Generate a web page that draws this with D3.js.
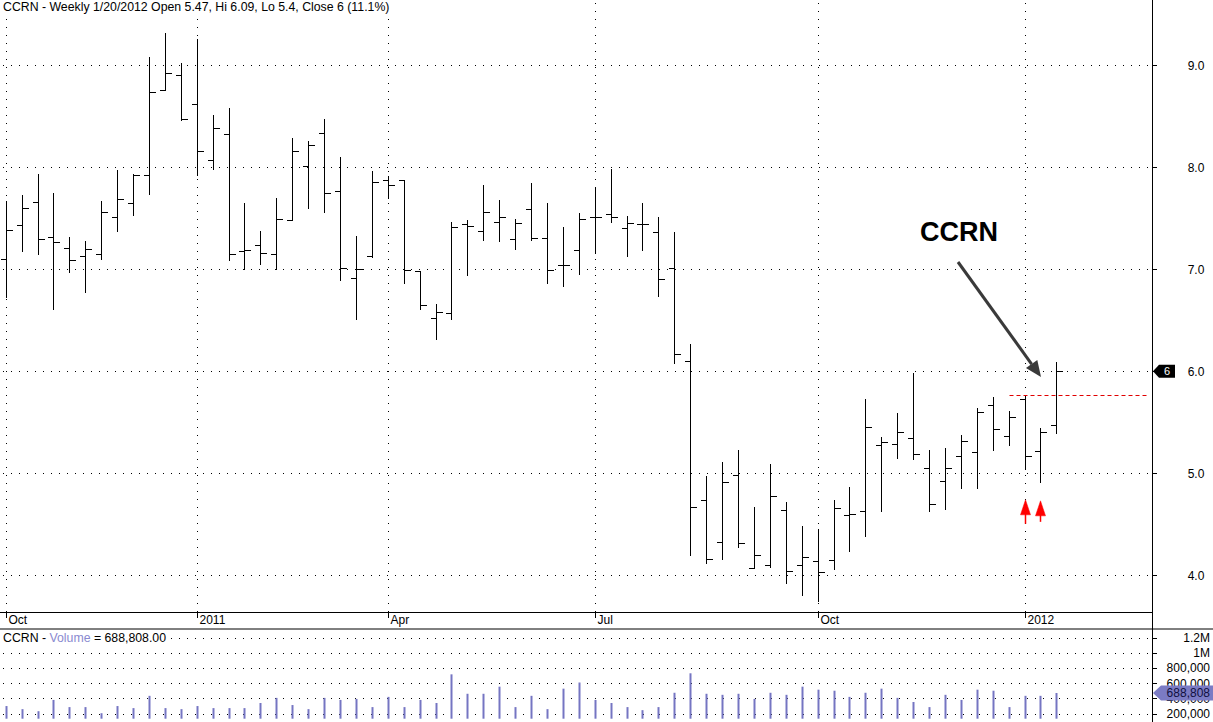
<!DOCTYPE html>
<html>
<head>
<meta charset="utf-8">
<script src="https://cdn.jsdelivr.net/npm/d3@7"></script>
<style>
  body { margin: 0; background: #fff; }
  svg { display: block; font-family: "Liberation Sans", Arial, sans-serif; }
</style>
</head>
<body>
<div id="chart"></div>
<script>
// weekly bars, CCRN, Oct 2010 - Jan 2012
var opens = [7.10, 7.43, 7.66, 7.32, 7.21, 7.13, 7.15, 7.51, 7.65, 7.92, 8.76, 8.90,
  8.62, 8.07, 8.33, 7.18, 7.24, 7.15, 7.48, 8.01, 8.34, 7.77, 6.91, 7.13,
  7.88, 7.88, 6.98, 6.52, 6.57, 7.44, 7.38, 7.46, 7.30, 7.59, 7.31, 7.04,
  7.19, 7.51, 7.54, 7.40, 7.44, 7.37, 7.01, 6.10, 4.74, 4.33, 4.98, 4.07,
  4.10, 4.64, 4.10, 4.14, 4.15, 4.59, 4.63, 5.28, 5.29, 5.35, 5.05, 4.92,
  5.17, 5.21, 5.67, 5.37, 5.73, 5.22, 5.47];
var highs = [7.67, 7.73, 7.93, 7.75, 7.32, 7.28, 7.67, 7.97, 7.93, 9.08, 9.32, 9.02,
  9.26, 8.51, 8.58, 7.65, 7.38, 7.70, 8.29, 8.26, 8.47, 8.10, 7.33, 7.96,
  7.91, 7.88, 6.98, 6.66, 7.46, 7.48, 7.83, 7.68, 7.49, 7.85, 7.65, 7.41,
  7.55, 7.80, 7.98, 7.52, 7.65, 7.51, 7.37, 6.27, 4.97, 5.11, 5.23, 4.67,
  5.09, 4.72, 4.48, 4.45, 4.74, 4.87, 5.73, 5.36, 5.59, 5.98, 5.23, 5.25,
  5.38, 5.64, 5.75, 5.61, 5.77, 5.44, 6.09];
var lows = [6.73, 7.18, 7.15, 6.61, 6.97, 6.78, 7.10, 7.38, 7.53, 7.74, 8.76, 8.46,
  7.92, 7.98, 7.09, 7.00, 7.05, 7.00, 7.48, 7.60, 7.56, 6.90, 6.51, 7.12,
  7.70, 6.87, 6.61, 6.32, 6.51, 6.94, 7.29, 7.28, 7.20, 7.29, 6.87, 6.84,
  6.95, 7.16, 7.46, 7.13, 7.19, 6.74, 6.08, 4.20, 4.12, 4.16, 4.28, 4.07,
  4.08, 3.92, 3.81, 3.75, 4.06, 4.24, 4.39, 4.63, 5.15, 5.14, 4.63, 4.65,
  4.86, 4.86, 5.23, 5.28, 5.04, 4.91, 5.40];
var closes = [7.39, 7.60, 7.30, 7.27, 7.09, 7.20, 7.56, 7.69, 7.92, 8.74, 8.92, 8.47,
  8.16, 8.39, 7.15, 7.19, 7.16, 7.49, 8.16, 8.22, 7.75, 7.01, 7.00, 7.86,
  7.83, 6.99, 6.65, 6.58, 7.41, 7.42, 7.56, 7.51, 7.45, 7.31, 6.99, 7.04,
  7.49, 7.51, 7.51, 7.45, 7.44, 6.90, 6.17, 4.67, 4.16, 4.91, 4.32, 4.20,
  4.78, 4.04, 4.18, 4.03, 4.66, 4.60, 5.45, 5.31, 5.40, 5.19, 4.70, 5.05,
  5.32, 5.60, 5.43, 5.55, 5.17, 5.40, 6.00];
var volumes = [339000, 256000, 201000, 503000, 311000, 311000, 147000, 339000, 284000, 613000, 284000, 256000,
  339000, 284000, 284000, 284000, 421000, 558000, 366000, 256000, 558000, 503000, 530000, 311000,
  585000, 311000, 503000, 421000, 1189000, 668000, 668000, 859000, 311000, 613000, 256000, 805000,
  970000, 503000, 421000, 311000, 229000, 311000, 695000, 1217000, 668000, 640000, 668000, 530000,
  695000, 640000, 859000, 778000, 750000, 585000, 695000, 805000, 558000, 448000, 311000, 640000,
  503000, 778000, 750000, 311000, 613000, 613000, 688808];

var priceTicks = [4, 5, 6, 7, 8, 9];
var volTicks = [200000, 400000, 600000, 800000, 1000000, 1200000];
var volTickLabels = ["200,000", "400,000", "600,000", "800,000", "1M", "1.2M"];
var signalBars = [64, 65];
var signalPrices = [4.74, 4.73];
var resistance = 5.77;

var titleText = "CCRN - Weekly 1/20/2012 Open 5.47, Hi 6.09, Lo 5.4, Close 6 (11.1%)";

var svgWidth = 1213;
var svgHeight = 722;
var axisX = 1152;
var priceBottom = 612;
var volTop = 628.5;

var svg = d3.select("#chart")
  .append("svg")
  .attr("width", svgWidth)
  .attr("height", svgHeight);

svg.append("rect").attr("width", svgWidth).attr("height", svgHeight).attr("fill", "#fff");

// one friday per bar
var dates = d3.timeFriday.range(new Date(2010, 9, 15), new Date(2012, 0, 21));

var x = d3.scaleLinear()
  .domain([0, dates.length - 1])
  .range([5.7, 1056.4]);
var y = d3.scaleLinear()
  .domain([4, 9])
  .range([575.3, 65.3]);
var vy = d3.scaleLinear()
  .domain([0, 2412000])
  .range([718.7, 628.7]);
var vAxisY = d3.scaleLinear()
  .domain([200000, 1200000])
  .range([713.5, 638]);

var px = i => Math.round(x(i)) + 0.5;
var py = v => Math.round(y(v)) + 0.5;

// month ticks: first bar of each quarter month
var monthTicks = [];
dates.forEach((d, i) => {
  if (i === 0 || (d.getMonth() !== dates[i - 1].getMonth() && d.getMonth() % 3 === 0)) {
    monthTicks.push({ i: i, label: d.getMonth() === 0 ? String(d.getFullYear()) : d3.timeFormat("%b")(d) });
  }
});

// grid
var grid = svg.append("g").attr("stroke", "#000").attr("stroke-width", 1).attr("stroke-dasharray", "1,7");
grid.selectAll(".hg").data(priceTicks).enter().append("line")
  .attr("x1", 3).attr("x2", axisX - 2)
  .attr("y1", d => py(d)).attr("y2", d => py(d));
grid.selectAll(".vg").data(monthTicks).enter().append("line")
  .attr("x1", d => px(d.i)).attr("x2", d => px(d.i))
  .attr("y1", 3).attr("y2", priceBottom);
grid.selectAll(".vvg").data(volTicks).enter().append("line")
  .attr("x1", 3).attr("x2", axisX - 2)
  .attr("y1", d => Math.round(vAxisY(d)) + 0.5).attr("y2", d => Math.round(vAxisY(d)) + 0.5);

// frame lines
svg.append("line").attr("x1", axisX + 0.5).attr("x2", axisX + 0.5).attr("y1", 0).attr("y2", svgHeight).attr("stroke", "#000");
svg.append("line").attr("x1", 0).attr("x2", axisX).attr("y1", priceBottom + 0.5).attr("y2", priceBottom + 0.5).attr("stroke", "#000");
svg.append("line").attr("x1", 0).attr("x2", svgWidth).attr("y1", volTop + 0.5).attr("y2", volTop + 0.5).attr("stroke", "#000");

// price axis
var pAxis = svg.append("g");
pAxis.selectAll("line").data(priceTicks).enter().append("line")
  .attr("x1", axisX).attr("x2", axisX + 5)
  .attr("y1", d => py(d)).attr("y2", d => py(d)).attr("stroke", "#000");
pAxis.selectAll("text").data(priceTicks).enter().append("text")
  .attr("x", 1196).attr("y", d => y(d)).attr("dy", "0.35em")
  .attr("text-anchor", "middle").attr("font-size", 12)
  .text(d3.format(".1f"));

// volume axis
var vAxis = svg.append("g");
vAxis.selectAll("line").data(volTicks).enter().append("line")
  .attr("x1", axisX).attr("x2", axisX + 5)
  .attr("y1", d => Math.round(vAxisY(d)) + 0.5).attr("y2", d => Math.round(vAxisY(d)) + 0.5).attr("stroke", "#000");
vAxis.selectAll("text").data(volTicks).enter().append("text")
  .attr("x", 1210).attr("y", d => vAxisY(d)).attr("dy", "0.35em")
  .attr("text-anchor", "end").attr("font-size", 12)
  .text((d, i) => volTickLabels[i]);

// date axis
var dAxis = svg.append("g");
dAxis.selectAll("line").data(monthTicks).enter().append("line")
  .attr("x1", d => px(d.i)).attr("x2", d => px(d.i))
  .attr("y1", priceBottom).attr("y2", priceBottom + 6).attr("stroke", "#000");
dAxis.selectAll("text").data(monthTicks).enter().append("text")
  .attr("x", d => px(d.i) + 2).attr("y", priceBottom + 12)
  .attr("font-size", 12)
  .text(d => d.label);

// volume bars
svg.append("g").selectAll("line").data(volumes).enter().append("line")
  .attr("x1", (d, i) => px(i)).attr("x2", (d, i) => px(i))
  .attr("y1", vy(0)).attr("y2", d => vy(d))
  .attr("stroke", "#7575c2").attr("stroke-width", 2);

// ohlc bars
var bars = svg.append("g").attr("stroke", "#000").attr("stroke-width", 1).attr("shape-rendering", "crispEdges");
opens.forEach((o, i) => {
  var cx = px(i);
  bars.append("line").attr("x1", cx).attr("x2", cx).attr("y1", y(highs[i])).attr("y2", y(lows[i]) + 1);
  bars.append("line").attr("x1", cx - 6).attr("x2", cx).attr("y1", py(o)).attr("y2", py(o));
  bars.append("line").attr("x1", cx).attr("x2", cx + 6).attr("y1", py(closes[i])).attr("y2", py(closes[i]));
});

// resistance dashed line
svg.append("line")
  .attr("x1", px(63)).attr("x2", axisX - 4)
  .attr("y1", py(resistance)).attr("y2", py(resistance))
  .attr("stroke", "#e00000").attr("stroke-dasharray", "4,3");

// signal arrows
var sig = svg.append("g").attr("fill", "#ff0000").attr("stroke", "#ff0000");
signalBars.forEach((b, k) => {
  var cx = px(b), ty = y(signalPrices[k]);
  sig.append("path").attr("d", `M${cx},${ty} L${cx - 5},${ty + 15} L${cx + 5},${ty + 15} Z`).attr("stroke-width", 0.5);
  sig.append("line").attr("x1", cx).attr("x2", cx).attr("y1", ty + 14).attr("y2", ty + 24 - k * 3).attr("stroke-width", 1.5);
});

// annotation
svg.append("text").attr("x", 920).attr("y", 241)
  .attr("font-size", 27).attr("font-weight", "bold").text("CCRN");
var tipX = 1041, tipY = 377;
var ang = Math.atan2(tipY - 262, tipX - 958);
var back = 16, half = 7;
var bx = tipX - back * Math.cos(ang), by = tipY - back * Math.sin(ang);
svg.append("line").attr("x1", 958).attr("y1", 262).attr("x2", bx).attr("y2", by)
  .attr("stroke", "#3a3a3a").attr("stroke-width", 3);
svg.append("path")
  .attr("d", `M${tipX},${tipY} L${bx + half * Math.sin(ang)},${by - half * Math.cos(ang)} L${bx - half * Math.sin(ang)},${by + half * Math.cos(ang)} Z`)
  .attr("fill", "#3a3a3a");

// last price tag
var lastY = y(closes[closes.length - 1]);
svg.append("path")
  .attr("d", `M${axisX + 1},${lastY} L${axisX + 7},${lastY - 6.5} L${axisX + 23},${lastY - 6.5} L${axisX + 23},${lastY + 6.5} L${axisX + 7},${lastY + 6.5} Z`)
  .attr("fill", "#000");
svg.append("text").attr("x", axisX + 15).attr("y", lastY).attr("dy", "0.35em")
  .attr("text-anchor", "middle").attr("font-size", 11).attr("fill", "#fff")
  .text(d3.format("d")(closes[closes.length - 1]));

// last volume tag (covers the 400,000 label like the original)
var lastVY = vy(volumes[volumes.length - 1]);
svg.append("path")
  .attr("d", `M${axisX + 1},${lastVY} L${axisX + 9},${lastVY - 7.5} L${svgWidth},${lastVY - 7.5} L${svgWidth},${lastVY + 7.5} L${axisX + 9},${lastVY + 7.5} Z`)
  .attr("fill", "#7b7bc4");
svg.append("text").attr("x", 1210).attr("y", lastVY).attr("dy", "0.35em")
  .attr("text-anchor", "end").attr("font-size", 12).attr("fill", "#101040")
  .text(d3.format(",")(volumes[volumes.length - 1]));

// titles, on white so the grid dots stop behind them
function title(yPos) {
  var t = svg.append("text").attr("x", 3).attr("y", yPos).attr("font-size", 12.3).attr("fill", "#000");
  return t;
}
var t1 = title(11).text(titleText);
var b1 = t1.node().getBBox();
svg.insert("rect", () => t1.node()).attr("x", 0).attr("y", b1.y).attr("width", b1.x + b1.width + 2).attr("height", b1.height).attr("fill", "#fff");

var vt = title(642);
vt.append("tspan").text("CCRN - ");
vt.append("tspan").attr("fill", "#8a8ad0").text("Volume");
vt.append("tspan").text(" = " + d3.format(",.2f")(volumes[volumes.length - 1]));
var b2 = vt.node().getBBox();
svg.insert("rect", () => vt.node()).attr("x", 0).attr("y", b2.y).attr("width", b2.x + b2.width + 3).attr("height", b2.height).attr("fill", "#fff");
</script>
</body>
</html>
